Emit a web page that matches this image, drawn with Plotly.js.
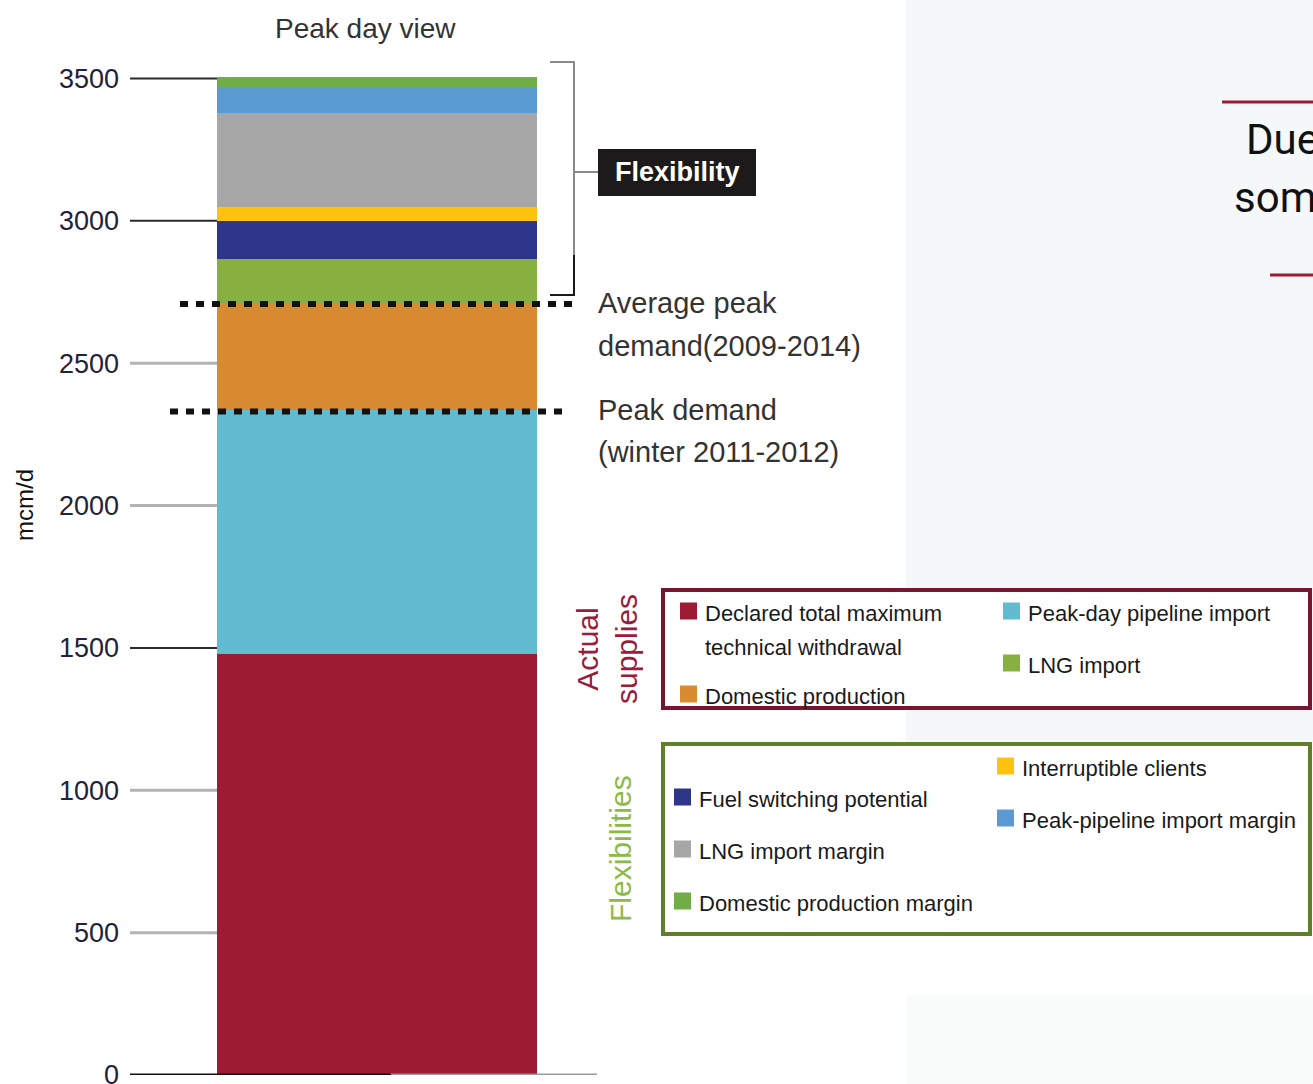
<!DOCTYPE html>
<html>
<head>
<meta charset="utf-8">
<script src="https://cdn.plot.ly/plotly-3.0.1.min.js"></script>
<style>
  html, body { margin: 0; padding: 0; background: #ffffff; }
  #chart { width: 1313px; height: 1084px; }
</style>
</head>
<body>
<div id="chart"></div>
<script>
// ---------------- DATA ----------------
const categories = ['Peak day view'];
const seriesNames = [
  'Declared total maximum technical withdrawal',
  'Peak-day pipeline import',
  'Domestic production',
  'LNG import',
  'Fuel switching potential',
  'Interruptible clients',
  'LNG import margin',
  'Peak-pipeline import margin',
  'Domestic production margin'
];
const seriesValues = [1480, 855, 373, 157, 136, 46, 330, 91, 37];
const seriesColors = ['#9e1b34', '#62bcd0', '#d98b32', '#88b040', '#2e3689', '#ffc20e', '#a5a6a5', '#5b9bd3', '#70ad47'];
const tickVals = [0, 500, 1000, 1500, 2000, 2500, 3000, 3500];
const tickText = ['0', '500', '1000', '1500', '2000', '2500', '3000', '3500'];
const referenceNames = ['Average peak<br>demand(2009-2014)', 'Peak demand<br>(winter 2011-2012)'];
const referenceValues = [2708, 2330];

// ---------------- LAYOUT HELPERS (pixel -> paper) ----------------
const L = 130, R = 900, T = 50, B = 1075;
const px = p => (p - L) / (R - L);
const py = p => (B - p) / (B - T);
const FONT = 'Liberation Sans, Arial, sans-serif';
const txt = '#333333';

const traces = seriesNames.map((n, i) => ({
  type: 'bar',
  name: n,
  x: categories,
  y: [seriesValues[i]],
  marker: { color: seriesColors[i] },
  hoverinfo: 'name+y',
  showlegend: false
}));

const shapes = [];
const annotations = [];

// right-hand background panel (slide background)
shapes.push({ type: 'rect', xref: 'paper', yref: 'paper', x0: px(906), x1: px(1313), y0: py(743), y1: py(0), line: { width: 0 }, fillcolor: '#f5f8f8', layer: 'below' });
shapes.push({ type: 'rect', xref: 'paper', yref: 'paper', x0: px(906), x1: px(1313), y0: py(1084), y1: py(995), line: { width: 0 }, fillcolor: '#f9fafa', layer: 'below' });
// red rules on panel
shapes.push({ type: 'line', xref: 'paper', yref: 'paper', x0: px(1222), x1: px(1320), y0: py(102), y1: py(102), line: { color: '#9e1b34', width: 3 } });
shapes.push({ type: 'line', xref: 'paper', yref: 'paper', x0: px(1270), x1: px(1320), y0: py(275), y1: py(275), line: { color: '#9e1b34', width: 3 } });
annotations.push({ xref: 'paper', yref: 'paper', x: px(1244), y: py(140), xanchor: 'left', yanchor: 'middle', text: 'Due', showarrow: false, font: { family: 'Roboto, sans-serif', size: 42, color: '#111111' } });
annotations.push({ xref: 'paper', yref: 'paper', x: px(1232), y: py(197), xanchor: 'left', yanchor: 'middle', text: 'som', showarrow: false, font: { family: 'Roboto, sans-serif', size: 42, color: '#111111' } });

// tick lines (left of bar)
const darkTicks = [1500, 3000, 3500];
tickVals.forEach(v => {
  if (v === 0) return;
  shapes.push({ type: 'line', xref: 'paper', yref: 'y', x0: px(130), x1: px(218), y0: v, y1: v,
    line: { color: darkTicks.includes(v) ? '#2b2b2b' : '#b3b3b3', width: darkTicks.includes(v) ? 2 : 3 }, layer: 'below' });
});
// baseline
shapes.push({ type: 'line', xref: 'paper', yref: 'y', x0: px(390), x1: px(597), y0: 0, y1: 0, line: { color: '#9a9a9a', width: 3 }, layer: 'above' });
shapes.push({ type: 'line', xref: 'paper', yref: 'y', x0: px(130), x1: px(391), y0: 0, y1: 0, line: { color: '#111111', width: 3 }, layer: 'above' });

// dotted reference lines
const refX = [[180, 576], [170, 568]];
referenceValues.forEach((v, i) => {
  shapes.push({ type: 'line', xref: 'paper', yref: 'y', x0: px(refX[i][0]), x1: px(refX[i][1]), y0: v, y1: v,
    line: { color: '#111111', width: 6, dash: '8px,8px' }, layer: 'above' });
});
const refY = [[303, 346], [410, 452]];
referenceNames.forEach((n, i) => {
  const parts = n.split('<br>');
  parts.forEach((p, j) => {
    annotations.push({ xref: 'paper', yref: 'paper', x: px(596), y: py(refY[i][j]), xanchor: 'left', yanchor: 'middle',
      text: p, showarrow: false, font: { family: FONT, size: 29, color: txt } });
  });
});

// Flexibility bracket
shapes.push({ type: 'line', xref: 'paper', yref: 'paper', x0: px(550), x1: px(575), y0: py(62), y1: py(62), line: { color: '#8a8a8a', width: 2 } });
shapes.push({ type: 'line', xref: 'paper', yref: 'paper', x0: px(574), x1: px(574), y0: py(62), y1: py(256), line: { color: '#8a8a8a', width: 2 } });
shapes.push({ type: 'line', xref: 'paper', yref: 'paper', x0: px(574), x1: px(574), y0: py(255), y1: py(296), line: { color: '#1a1a1a', width: 2 } });
shapes.push({ type: 'line', xref: 'paper', yref: 'paper', x0: px(550), x1: px(575), y0: py(295), y1: py(295), line: { color: '#1a1a1a', width: 2 } });
shapes.push({ type: 'line', xref: 'paper', yref: 'paper', x0: px(574), x1: px(599), y0: py(172), y1: py(172), line: { color: '#8a8a8a', width: 2 } });
shapes.push({ type: 'rect', xref: 'paper', yref: 'paper', x0: px(598), x1: px(756), y0: py(196), y1: py(149), line: { width: 0 }, fillcolor: '#1c1a1a' });
annotations.push({ xref: 'paper', yref: 'paper', x: px(677), y: py(172), xanchor: 'center', yanchor: 'middle', text: '<b>Flexibility</b>', showarrow: false, font: { family: FONT, size: 27, color: '#ffffff' } });

// title and y label
annotations.push({ xref: 'paper', yref: 'paper', x: px(365), y: py(29), xanchor: 'center', yanchor: 'middle', text: categories[0], showarrow: false, font: { family: FONT, size: 28, color: txt } });
annotations.push({ xref: 'paper', yref: 'paper', x: px(25), y: py(505), xanchor: 'center', yanchor: 'middle', text: 'mcm/d', textangle: -90, showarrow: false, font: { family: FONT, size: 24, color: '#111111' } });

// custom legend boxes
shapes.push({ type: 'rect', xref: 'paper', yref: 'paper', x0: px(663), x1: px(1310), y0: py(708), y1: py(590), line: { color: '#7a1531', width: 4 }, fillcolor: '#ffffff' });
shapes.push({ type: 'rect', xref: 'paper', yref: 'paper', x0: px(663), x1: px(1310), y0: py(934), y1: py(744), line: { color: '#5f7f2c', width: 4 }, fillcolor: '#ffffff' });
annotations.push({ xref: 'paper', yref: 'paper', x: px(607), y: py(649), xanchor: 'center', yanchor: 'middle', text: 'Actual<br>supplies', textangle: -90, showarrow: false, font: { family: FONT, size: 30, color: '#9a1b3a' } });
annotations.push({ xref: 'paper', yref: 'paper', x: px(620), y: py(849), xanchor: 'center', yanchor: 'middle', text: 'Flexibilities', textangle: -90, showarrow: false, font: { family: FONT, size: 30, color: '#8cba46' } });

// legend entry placement: [series index, square left px, center y px, label lines]
const legendPlacement = [
  [0, 680, 611, ['Declared total maximum', 'technical withdrawal']],
  [2, 680, 694, ['Domestic production']],
  [1, 1003, 611, ['Peak-day pipeline import']],
  [3, 1003, 663, ['LNG import']],
  [5, 997, 766, ['Interruptible clients']],
  [4, 674, 797, ['Fuel switching potential']],
  [7, 997, 818, ['Peak-pipeline import margin']],
  [6, 674, 849, ['LNG import margin']],
  [8, 674, 901, ['Domestic production margin']]
];
legendPlacement.forEach(([i, sx, cy, lines]) => {
  shapes.push({ type: 'rect', xref: 'paper', yref: 'paper', x0: px(sx), x1: px(sx + 17), y0: py(cy + 8.5), y1: py(cy - 8.5), line: { width: 0 }, fillcolor: seriesColors[i] });
  lines.forEach((t, j) => {
    annotations.push({ xref: 'paper', yref: 'paper', x: px(sx + 23), y: py(cy + 2 + j * 34), xanchor: 'left', yanchor: 'middle', text: t, showarrow: false, font: { family: FONT, size: 22, color: '#1a1a1a' } });
  });
});

const layout = {
  width: 1313, height: 1084,
  margin: { l: L, r: 1313 - R, t: T, b: 1084 - B, pad: 0 },
  paper_bgcolor: '#ffffff', plot_bgcolor: 'rgba(0,0,0,0)',
  barmode: 'stack', bargap: 0.2,
  showlegend: false,
  xaxis: { type: 'category', range: [-0.6175, 1.3075], showticklabels: false, showgrid: false, zeroline: false, showline: false, ticks: '', fixedrange: true },
  yaxis: { range: [0, 3600], tickvals: tickVals, ticktext: tickText, showgrid: false, zeroline: false, showline: false, ticks: '', ticklabelstandoff: 10,
    ticklabeloverflow: 'allow', tickfont: { family: FONT, size: 27, color: '#22223a' }, fixedrange: true },
  shapes: shapes,
  annotations: annotations
};

Plotly.newPlot('chart', traces, layout, { displayModeBar: false, staticPlot: true });
</script>
</body>
</html>
